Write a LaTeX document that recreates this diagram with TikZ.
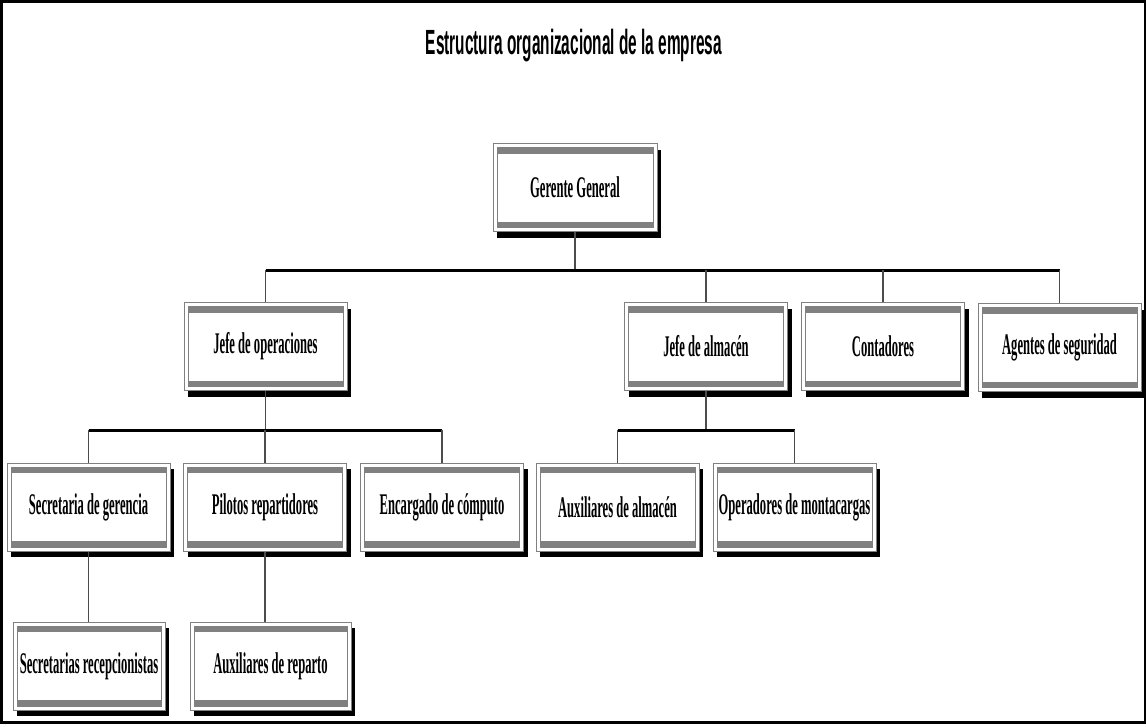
\documentclass[tikz,border=0pt]{standalone}
\usepackage{fontspec}
\setmainfont{Liberation Serif}
\newfontfamily\sansfuente{Liberation Sans}
\usepackage{graphicx}
\usetikzlibrary{positioning, shadows}

\newcommand{\cargo}[1]{\scalebox{0.42}[1]{\bfseries\fontsize{30}{34}\selectfont #1}}
\newcommand{\encabezado}[1]{\scalebox{0.44}[1]{\sansfuente\bfseries\fontsize{35}{40}\selectfont #1}}

\begin{document}
\begin{tikzpicture}[x=1pt, y=-1pt,
  puesto/.style={draw=gray, line width=1pt, fill=white, minimum width=163pt, minimum height=88pt, inner sep=0pt,
    drop shadow={shadow xshift=4pt, shadow yshift=-6pt, fill=black, opacity=1},
    path picture={
      \draw[gray, line width=1pt] ([shift={(4pt,-4pt)}]path picture bounding box.north west) rectangle ([shift={(-4pt,4pt)}]path picture bounding box.south east);
      \fill[gray] ([shift={(4pt,-4pt)}]path picture bounding box.north west) rectangle ([shift={(-4pt,-10pt)}]path picture bounding box.north east);
      \fill[gray] ([shift={(4pt,4pt)}]path picture bounding box.south west) rectangle ([shift={(-4pt,10pt)}]path picture bounding box.south east);
    }},
  bar/.style={line width=3pt},
  stem/.style={gray!60!black, line width=1.5pt}]
\useasboundingbox (0,0) rectangle (1147,726);
\draw[line width=2.5pt] (1.5,1.5) rectangle (1145,722.5);
\node (titulo) at (574,46) {\encabezado{Estructura organizacional de la empresa}};

% niveles
\node[puesto, minimum width=164pt] (gg) at (575,187.5) {\cargo{Gerente General}};
\node[puesto] (jop) at (265.5,346.5) {\cargo{Jefe de operaciones}};
\node[puesto] (jal) at (706,346.5) {\cargo{Jefe de almacén}};
\node[puesto] (con) at (883,346.5) {\cargo{Contadores}};
\node[puesto] (ags) at (1059.5,347.5) {\cargo{Agentes de seguridad}};
\node[puesto] (sec) at (88.5,507) {\cargo{Secretaria de gerencia}};
\node[puesto] (pil) at (265,507) {\cargo{Pilotos repartidores}};
\node[puesto] (enc) at (442,507) {\cargo{Encargado de cómputo}};
\node[puesto] (aux) at (617.5,507) {\cargo{Auxiliares de almacén}};
\node[puesto] (ope) at (794.5,507) {\cargo{Operadores de montacargas}};
\node[puesto, minimum width=152pt] (srec) at (89,666) {\cargo{Secretarias recepcionistas}};
\node[puesto, minimum width=161pt] (rep) at (270.5,666) {\cargo{Auxiliares de reparto}};

% conectores
\coordinate (b1) at (575,270);
\coordinate (b2) at (265.5,430);
\coordinate (b3) at (706,430);
\draw[stem] (gg.south) -- (b1);
\draw[bar] (jop.north |- b1) -- (ags.north |- b1);
\foreach \n in {jop,jal,con,ags} \draw[stem] (\n.north |- b1) -- (\n.north);
\draw[stem] (jop.south) -- (b2);
\draw[bar] (sec.north |- b2) -- (enc.north |- b2);
\foreach \n in {sec,pil,enc} \draw[stem] (\n.north |- b2) -- (\n.north);
\draw[stem] (jal.south) -- (b3);
\draw[bar] (aux.north |- b3) -- (ope.north |- b3);
\foreach \n in {aux,ope} \draw[stem] (\n.north |- b3) -- (\n.north);
\draw[stem] (sec.south) -- (sec.south |- srec.north);
\draw[stem] (pil.south) -- (pil.south |- rep.north);
\end{tikzpicture}
\end{document}
